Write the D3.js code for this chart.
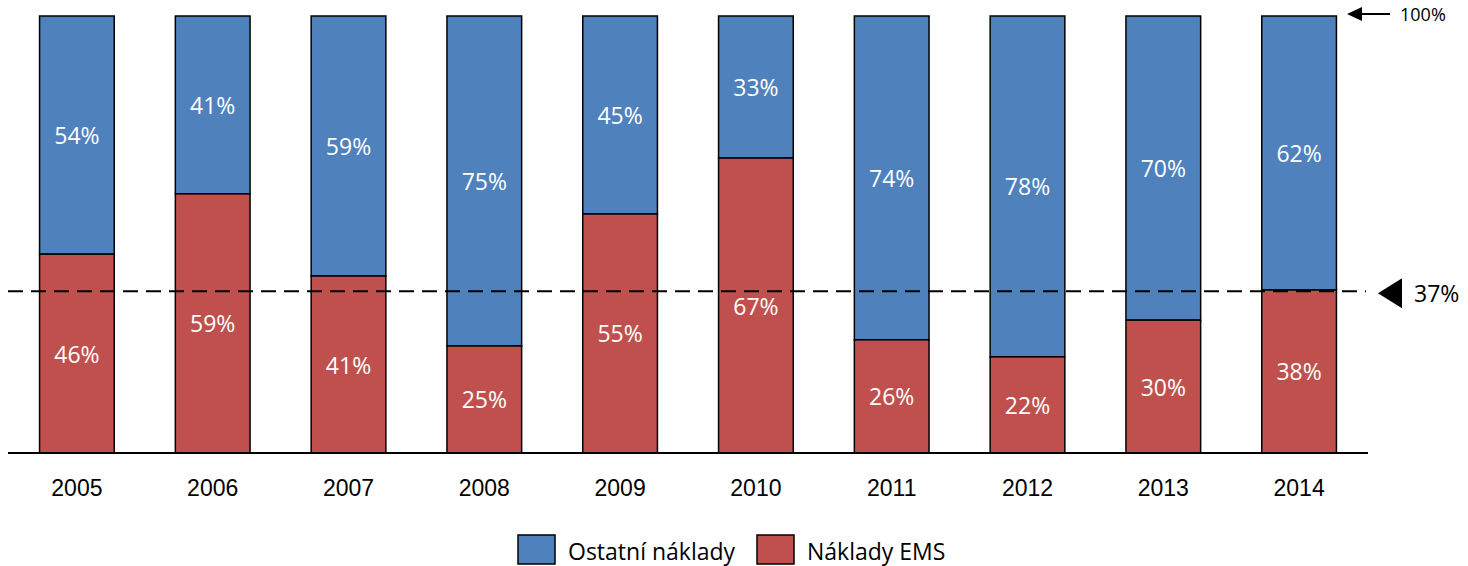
<!DOCTYPE html>
<html lang="cs">
<head>
<meta charset="utf-8">
<title>Náklady EMS</title>
<script src="https://cdn.jsdelivr.net/npm/d3@7"></script>
<style>
  body { margin: 0; background: #fff; font-family: "Open Sans", "Noto Sans", sans-serif; }
  .seg-label { fill: #fff; font-size: 23px; }
  .axis text { font-size: 23px; fill: #000; }
  .legend text { font-size: 23px; fill: #000; }
</style>
</head>
<body>
<div id="chart"></div>
<script>
// data
var years = ["2005", "2006", "2007", "2008", "2009", "2010", "2011", "2012", "2013", "2014"];
var emsShare = [45.5, 59.3, 40.5, 24.5, 54.7, 67.5, 25.9, 22.0, 30.4, 37.3];
var emsLabels = ["46%", "59%", "41%", "25%", "55%", "67%", "26%", "22%", "30%", "38%"];
var otherLabels = ["54%", "41%", "59%", "75%", "45%", "33%", "74%", "78%", "70%", "62%"];
var seriesNames = ["Ostatní náklady", "Náklady EMS"];
var seriesColors = ["#4F81BD", "#C0504D"];
var refLine = 37;

var W = 1468, H = 566;
var margin = {top: 16, left: 8, right: 100, bottom: 113};
var innerW = 1368 - margin.left;
var innerH = H - margin.top - margin.bottom;

var svg = d3.select("#chart").append("svg")
  .attr("width", W).attr("height", H);

var g = svg.append("g")
  .attr("transform", "translate(" + margin.left + "," + margin.top + ")");

var x = d3.scaleBand().domain(years).range([1, innerW - 1]).paddingInner(0.45).paddingOuter(0.225);
var y = d3.scaleLinear().domain([0, 100]).range([innerH, 0]);

var rows = years.map(function(yr, i) {
  return {year: yr, ems: emsShare[i], emsLabel: emsLabels[i], otherLabel: otherLabels[i]};
});

var bars = g.selectAll(".bar").data(rows).enter().append("g").attr("class", "bar");

// other costs (top)
bars.append("rect")
  .attr("x", function(d) { return x(d.year); })
  .attr("width", x.bandwidth())
  .attr("y", y(100))
  .attr("height", function(d) { return y(d.ems) - y(100); })
  .attr("fill", seriesColors[0])
  .attr("stroke", "#000").attr("stroke-width", 1.5);

// EMS costs (bottom)
bars.append("rect")
  .attr("x", function(d) { return x(d.year); })
  .attr("width", x.bandwidth())
  .attr("y", function(d) { return y(d.ems); })
  .attr("height", function(d) { return y(0) - y(d.ems); })
  .attr("fill", seriesColors[1])
  .attr("stroke", "#000").attr("stroke-width", 1.5);

bars.append("text").attr("class", "seg-label")
  .attr("text-anchor", "middle").attr("dominant-baseline", "central")
  .attr("x", function(d) { return x(d.year) + x.bandwidth() / 2; })
  .attr("y", function(d) { return (y(100) + y(d.ems)) / 2; })
  .text(function(d) { return d.otherLabel; });

bars.append("text").attr("class", "seg-label")
  .attr("text-anchor", "middle").attr("dominant-baseline", "central")
  .attr("x", function(d) { return x(d.year) + x.bandwidth() / 2; })
  .attr("y", function(d) { return (y(0) + y(d.ems)) / 2; })
  .text(function(d) { return d.emsLabel; });

// x axis
var xAxis = g.append("g").attr("class", "axis")
  .attr("transform", "translate(0," + innerH + ")")
  .call(d3.axisBottom(x).tickSize(0).tickPadding(27));
xAxis.select(".domain").attr("stroke", "#000").attr("stroke-width", 2)
  .attr("d", "M0,0H" + innerW);

// reference line at 37 %
g.append("line")
  .attr("x1", 0).attr("x2", innerW - 2)
  .attr("y1", y(refLine)).attr("y2", y(refLine))
  .attr("stroke", "#000").attr("stroke-width", 2)
  .attr("stroke-dasharray", "15,8");

var triX = innerW + 10;
var triY = y(refLine) + 2;
g.append("path")
  .attr("d", "M" + triX + "," + triY + "L" + (triX + 24) + "," + (triY - 15) +
        "L" + (triX + 24) + "," + (triY + 15) + "Z")
  .attr("fill", "#000");
g.append("text")
  .attr("x", triX + 36).attr("y", triY).attr("dominant-baseline", "central")
  .style("font-size", "23px").text(refLine + "%");

// 100 % arrow
var arrY = y(100) - 2;
g.append("line")
  .attr("x1", innerW - 10).attr("x2", innerW + 22)
  .attr("y1", arrY).attr("y2", arrY)
  .attr("stroke", "#000").attr("stroke-width", 2);
g.append("path")
  .attr("d", "M" + (innerW - 21) + "," + arrY + "L" + (innerW - 6) + "," + (arrY - 7) +
        "L" + (innerW - 6) + "," + (arrY + 7) + "Z")
  .attr("fill", "#000");
g.append("text")
  .attr("x", innerW + 32).attr("y", arrY).attr("dominant-baseline", "central")
  .style("font-size", "18px").text("100%");

// legend
var legend = svg.append("g").attr("class", "legend");
var legX = [518, 757];
seriesNames.forEach(function(name, i) {
  legend.append("rect")
    .attr("x", legX[i]).attr("y", 535).attr("width", 37).attr("height", 29)
    .attr("fill", seriesColors[i]).attr("stroke", "#000").attr("stroke-width", 1.5);
  legend.append("text")
    .attr("x", legX[i] + 50).attr("y", 551).attr("dominant-baseline", "central")
    .text(name);
});
</script>
</body>
</html>
